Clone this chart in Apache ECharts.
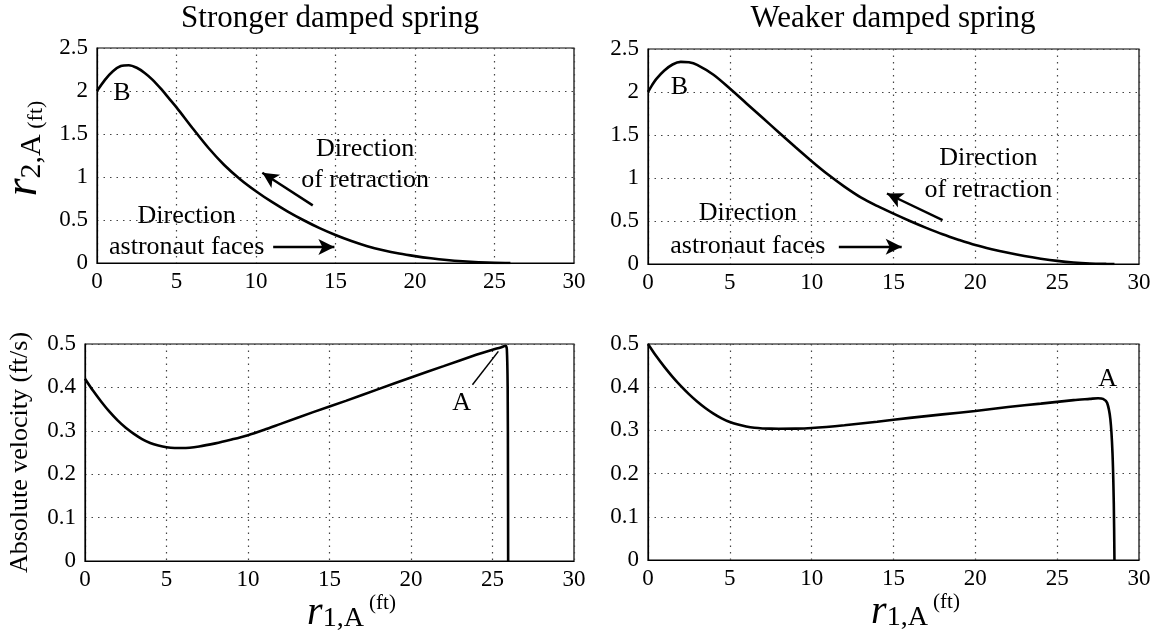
<!DOCTYPE html>
<html>
<head>
<meta charset="utf-8">
<script src="https://cdn.jsdelivr.net/npm/echarts@6/dist/echarts.min.js"></script>
<style>
  html, body { margin: 0; padding: 0; background: #fff; }
  #chart { width: 1160px; height: 636px; }
</style>
</head>
<body>
<div id="chart"></div>
<script>
// Panel titles
const panelTitles = ['Stronger damped spring', 'Weaker damped spring'];

// Tick values
const xTicks = [0, 5, 10, 15, 20, 25, 30];
const posTicks = [0, 0.5, 1, 1.5, 2, 2.5];
const velTicks = [0, 0.1, 0.2, 0.3, 0.4, 0.5];

// Stronger spring: r2,A versus r1,A (ft)
const strongR1 = [0, 0.5, 1, 1.5, 2, 2.5, 3, 3.5, 4, 4.5, 5, 6, 7, 8, 9, 10, 11, 12, 13, 14, 15, 16, 17, 18, 19, 20, 21, 22, 23, 24, 25, 26];
const strongR2 = [2.0, 2.13, 2.23, 2.29, 2.3, 2.27, 2.21, 2.13, 2.03, 1.92, 1.81, 1.57, 1.34, 1.14, 0.975, 0.835, 0.71, 0.598, 0.497, 0.405, 0.325, 0.255, 0.195, 0.148, 0.11, 0.08, 0.055, 0.035, 0.02, 0.009, 0.002, 0];

// Weaker spring: r2,A versus r1,A (ft)
const weakR1 = [0, 0.25, 0.5, 1, 1.5, 2, 2.5, 3, 4, 5, 6, 7, 8, 9, 10, 11, 12, 13, 14, 15, 16, 17, 18, 19, 20, 21, 22, 23, 24, 25, 26, 27, 28, 28.5];
const weakR2 = [2.0, 2.08, 2.15, 2.25, 2.32, 2.35, 2.345, 2.315, 2.2, 2.04, 1.87, 1.70, 1.53, 1.36, 1.195, 1.04, 0.9, 0.775, 0.675, 0.585, 0.5, 0.42, 0.345, 0.28, 0.22, 0.172, 0.13, 0.093, 0.062, 0.036, 0.017, 0.006, 0.001, 0];

// Stronger spring: absolute velocity (ft/s) versus r1,A
const strongVx = [0, 0.5, 1, 1.5, 2, 2.5, 3, 3.5, 4, 4.5, 5, 5.5, 6, 7, 8, 9, 10, 11, 12, 14, 16, 18, 20, 22, 24, 25, 25.5, 25.8, 25.88, 25.93, 25.95, 25.96];
const strongV = [0.42, 0.392, 0.367, 0.344, 0.324, 0.307, 0.293, 0.281, 0.272, 0.266, 0.262, 0.2605, 0.2605, 0.264, 0.271, 0.28, 0.29, 0.3025, 0.316, 0.343, 0.369, 0.396, 0.423, 0.449, 0.475, 0.487, 0.492, 0.496, 0.488, 0.4, 0.2, 0];

// Weaker spring: absolute velocity (ft/s) versus r1,A
const weakVx = [0, 0.5, 1, 1.5, 2, 2.5, 3, 3.5, 4, 4.5, 5, 5.5, 6, 6.5, 7, 7.5, 8, 9, 10, 12, 14, 16, 18, 20, 22, 24, 26, 27, 27.5, 27.8, 28.05, 28.25, 28.38, 28.46, 28.5];
const weakV = [0.5, 0.472, 0.447, 0.424, 0.403, 0.384, 0.367, 0.352, 0.339, 0.328, 0.3195, 0.3135, 0.309, 0.306, 0.3045, 0.304, 0.3038, 0.304, 0.3055, 0.312, 0.32, 0.329, 0.337, 0.345, 0.354, 0.362, 0.37, 0.373, 0.3745, 0.373, 0.364, 0.326, 0.248, 0.13, 0];

// Annotation text and anchor points (data coordinates)
const strongPosNotes = [
  { text: 'B', at: [1.56, 1.98] },
  { text: 'Direction', at: [16.86, 1.32] },
  { text: 'of retraction', at: [16.86, 0.96] },
  { text: 'Direction', at: [5.64, 0.55] },
  { text: 'astronaut faces', at: [5.64, 0.185] }
];
const strongPosArrows = [
  [[13.57, 0.67], [10.4, 1.05]],
  [[11.08, 0.185], [14.93, 0.185]]
];
const weakPosNotes = [
  { text: 'B', at: [1.92, 2.06] },
  { text: 'Direction', at: [20.8, 1.23] },
  { text: 'of retraction', at: [20.8, 0.86] },
  { text: 'Direction', at: [6.1, 0.59] },
  { text: 'astronaut faces', at: [6.1, 0.21] }
];
const weakPosArrows = [
  [[18.0, 0.51], [14.6, 0.82]],
  [[11.66, 0.2], [15.5, 0.2]]
];
const strongVelNotes = [{ text: 'A', at: [23.1, 0.363] }];
const strongVelLeader = [[23.77, 0.406], [25.36, 0.483]];
const weakVelNotes = [{ text: 'A', at: [28.08, 0.419] }];

const FONT = 'Liberation Serif';
const INK = '#000';

const zip = (xs, ys) => xs.map((x, i) => [x, ys[i]]);

const grids = [
  { left: 86, top: 48, width: 488, height: 215 },
  { left: 648, top: 49, width: 491, height: 215 },
  { left: 85, top: 344, width: 489, height: 217 },
  { left: 648, top: 344, width: 491, height: 216 }
].map(g => Object.assign({ show: true, borderColor: INK, borderWidth: 1.2, backgroundColor: '#fff' }, g));

const gridLine = { show: true, lineStyle: { color: '#444', width: 1.2, type: [1.5, 5] } };

const tickFmt = v => String(v);

const rFrac = {
  r: { fontFamily: FONT, fontStyle: 'italic', color: INK },
  s: { fontFamily: FONT, color: INK },
  u: { fontFamily: FONT, color: INK }
};

function xAxisFor(i, withName) {
  const ax = {
    gridIndex: i, type: 'value', min: xTicks[0], max: xTicks[xTicks.length - 1], interval: 5,
    axisLine: { show: true, lineStyle: { color: INK, width: 1.2 } },
    axisTick: { show: false },
    axisLabel: { color: INK, fontFamily: FONT, fontSize: 23, margin: 7, formatter: tickFmt },
    splitLine: gridLine
  };
  if (withName) {
    ax.name = '{r|r}{s|1,A}{u| (ft)}';
    ax.nameLocation = 'middle';
    ax.nameGap = 32;
    ax.nameTextStyle = {
      padding: [0, 0, 0, 44],
      rich: {
        r: Object.assign({}, rFrac.r, { fontSize: 40, lineHeight: 40, verticalAlign: 'middle' }),
        s: Object.assign({}, rFrac.s, { fontSize: 28, lineHeight: 28, verticalAlign: 'bottom' }),
        u: Object.assign({}, rFrac.u, { fontSize: 21, lineHeight: 30, verticalAlign: 'top' })
      }
    };
  }
  return ax;
}

function yAxisFor(i, ticks, name) {
  const step = ticks[1] - ticks[0];
  const ax = {
    gridIndex: i, type: 'value', min: ticks[0], max: ticks[ticks.length - 1], interval: step,
    axisLine: { show: true, lineStyle: { color: INK, width: 1.2 } },
    axisTick: { show: false },
    axisLabel: { color: INK, fontFamily: FONT, fontSize: 23, margin: 9, formatter: tickFmt },
    splitLine: gridLine
  };
  if (name) Object.assign(ax, name);
  return ax;
}

// y-axis names read bottom to top
const posName = {
  name: '{r|r}{s|2,A}{u| (ft)}',
  nameLocation: 'middle',
  nameGap: 50,
  nameTextStyle: {
    padding: [0, 0, 0, 14],
    rich: {
      r: Object.assign({}, rFrac.r, { fontSize: 46, lineHeight: 46, verticalAlign: 'middle' }),
      s: Object.assign({}, rFrac.s, { fontSize: 30, lineHeight: 30, verticalAlign: 'bottom' }),
      u: Object.assign({}, rFrac.u, { fontSize: 22, lineHeight: 34, verticalAlign: 'bottom' })
    }
  }
};

const velName = {
  name: 'Absolute velocity (ft/s)',
  nameLocation: 'middle',
  nameGap: 52,
  nameTextStyle: { fontFamily: FONT, fontSize: 26, color: INK }
};

function curve(i, xs, ys) {
  return {
    type: 'line', xAxisIndex: i, yAxisIndex: i, data: zip(xs, ys),
    showSymbol: false, smooth: 0.3, silent: true,
    lineStyle: { color: INK, width: 2.6 }, z: 5
  };
}

function notes(i, list) {
  return {
    type: 'scatter', xAxisIndex: i, yAxisIndex: i, silent: true, symbolSize: 0,
    itemStyle: { color: INK, opacity: 0 },
    data: list.map(n => ({ value: n.at, name: n.text })),
    label: {
      show: true, position: 'inside', formatter: '{b}', color: INK, opacity: 1,
      fontFamily: FONT, fontSize: 26, textBorderWidth: 0, textBorderColor: 'transparent'
    },
    z: 6
  };
}

function arrows(i, segs, withHead, width) {
  return {
    type: 'line', xAxisIndex: i, yAxisIndex: i, data: [], silent: true,
    markLine: {
      silent: true, animation: false,
      symbol: withHead ? ['none', 'arrow'] : ['none', 'none'],
      symbolSize: [12, 16],
      label: { show: false },
      lineStyle: { color: INK, width: width, type: 'solid' },
      emphasis: { disabled: true },
      data: segs.map(s => [{ coord: s[0] }, { coord: s[1] }])
    }
  };
}

const centers = [330, 893];

const option = {
  animation: false,
  backgroundColor: '#fff',
  grid: grids,
  xAxis: [xAxisFor(0, false), xAxisFor(1, false), xAxisFor(2, true), xAxisFor(3, true)],
  yAxis: [
    yAxisFor(0, posTicks, posName),
    yAxisFor(1, posTicks, null),
    yAxisFor(2, velTicks, velName),
    yAxisFor(3, velTicks, null)
  ],
  graphic: panelTitles.map((t, k) => ({
    type: 'text', x: centers[k], y: 3,
    style: { text: t, fill: INK, font: '31px "' + FONT + '"', textAlign: 'center', textVerticalAlign: 'top' }
  })),
  series: [
    curve(0, strongR1, strongR2),
    curve(1, weakR1, weakR2),
    curve(2, strongVx, strongV),
    curve(3, weakVx, weakV),
    notes(0, strongPosNotes),
    notes(1, weakPosNotes),
    notes(2, strongVelNotes),
    notes(3, weakVelNotes),
    arrows(0, strongPosArrows, true, 2.4),
    arrows(1, weakPosArrows, true, 2.4),
    arrows(2, [strongVelLeader], false, 1.5)
  ]
};

const chart = echarts.init(document.getElementById('chart'), null, { renderer: 'canvas' });
chart.setOption(option);
</script>
</body>
</html>
